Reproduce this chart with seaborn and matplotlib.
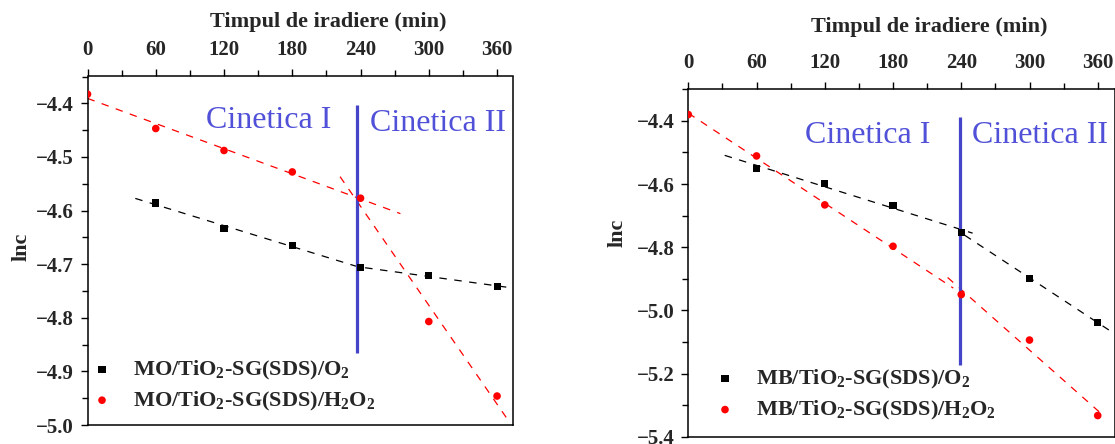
import numpy as np
import matplotlib
matplotlib.use("Agg")
import matplotlib.pyplot as plt
import seaborn as sns
import pandas as pd

# ---------------- data ----------------
time_min = [0, 60, 120, 180, 240, 300, 360]
mo_o2 = [np.nan, -4.586, -4.634, -4.665, -4.706, -4.722, -4.741]
mo_h2o2 = [-4.383, -4.447, -4.488, -4.528, -4.577, -4.807, -4.946]
mb_o2 = [np.nan, -4.551, -4.598, -4.667, -4.754, -4.899, -5.038]
mb_h2o2 = [-4.380, -4.511, -4.666, -4.797, -4.950, -5.094, -5.333]

labels_mo = ["MO/TiO$_2$-SG(SDS)/O$_2$", "MO/TiO$_2$-SG(SDS)/H$_2$O$_2$"]
labels_mb = ["MB/TiO$_2$-SG(SDS)/O$_2$", "MB/TiO$_2$-SG(SDS)/H$_2$O$_2$"]
xticks = [0, 60, 120, 180, 240, 300, 360]
xlabel = "Timpul de iradiere (min)"
ylabel = "lnc"
kin_labels = ["Cinetica I", "Cinetica II"]

# fit ranges (kinetic regimes) and drawing extents of the fit lines
fit_ranges_black = [(60, 240), (240, 360)]
fit_ranges_red = [(0, 240), (240, 360)]
draw_mo_black = [(42, 236), (244, 374)]
draw_mo_red = [(0, 275), (222, 368)]
draw_mb_black = [(32, 250), (243, 375)]
draw_mb_red = [(0, 233), (228, 366)]

# ---------------- style ----------------
sns.set_theme(style="ticks")
plt.rcParams["font.family"] = ["Liberation Serif", "DejaVu Serif"]
plt.rcParams["mathtext.fontset"] = "custom"
plt.rcParams["mathtext.rm"] = "Liberation Serif:bold"
plt.rcParams["mathtext.it"] = "Liberation Serif:bold"
plt.rcParams["mathtext.bf"] = "Liberation Serif:bold"
plt.rcParams["mathtext.default"] = "rm"
plt.rcParams["axes.unicode_minus"] = True

BLUE_LINE = "#4444c8"
BLUE_TEXT = "#5050d8"
RED = "#ff0000"

fig = plt.figure(figsize=(11.15, 4.44), dpi=100)
axL = fig.add_axes([87.5 / 1115, 19 / 444, 425.5 / 1115, 348.5 / 444])
axR = fig.add_axes([688.3 / 1115, 7.3 / 444, 426.5 / 1115, 347.4 / 444])


def fit_segments(ax, x, y, ranges, extents, color):
    x = np.asarray(x, float)
    y = np.asarray(y, float)
    for (a, b), (e0, e1) in zip(ranges, extents):
        m = (x >= a) & (x <= b) & ~np.isnan(y)
        k, c = np.polyfit(x[m], y[m], 1)
        xx = np.array([e0, e1])
        ax.plot(xx, k * xx + c, color=color, lw=0.9, dashes=(6, 6), zorder=2)


def yfmt(v, pos):
    return f"{v:.1f}".replace("-", "\u2212")


def panel(ax, yb, yr, labels, dr_b, dr_r, ylim, ymajor, yminor, vline, txt_pos,
          leg_anchor, xlab_y, ylab_xy, xlim):
    df = pd.DataFrame({"t": time_min, "b": yb, "r": yr})
    sns.scatterplot(data=df, x="t", y="b", ax=ax, marker="s", s=26, color="black",
                    edgecolor="none", label=labels[0], zorder=4)
    sns.scatterplot(data=df, x="t", y="r", ax=ax, marker="o", s=30, color=RED,
                    edgecolor="none", label=labels[1], zorder=4)
    fit_segments(ax, time_min, yb, fit_ranges_black, dr_b, "black")
    fit_segments(ax, time_min, yr, fit_ranges_red, dr_r, RED)
    ax.vlines(vline[0], vline[1], vline[2], color=BLUE_LINE, lw=2.3, zorder=3)
    for (tx, ty), s in zip(txt_pos, kin_labels):
        ax.text(tx, ty, s, color=BLUE_TEXT, fontsize=23, ha="center", va="center",
                family="Liberation Serif")

    ax.set_xlim(*xlim)
    ax.set_ylim(*ylim)
    ax.xaxis.tick_top()
    ax.xaxis.set_label_position("top")
    ax.set_xticks(xticks)
    ax.set_xticks(np.arange(30, 375, 60), minor=True)
    ax.set_yticks(np.arange(ylim[0], ylim[1] + 1e-9, ymajor))
    ax.set_yticks(np.arange(ylim[0], ylim[1] + 1e-9, yminor), minor=True)
    ax.yaxis.set_major_formatter(matplotlib.ticker.FuncFormatter(yfmt))
    ax.tick_params(axis="both", which="major", direction="out", length=5, width=1,
                   labelsize=15, color="black")
    ax.tick_params(axis="x", which="major", pad=7)
    ax.tick_params(axis="y", which="major", pad=5)
    ax.tick_params(axis="both", which="minor", direction="out", length=4, width=1,
                   color="black")
    for lab in ax.get_xticklabels() + ax.get_yticklabels():
        lab.set_fontweight("bold")
    for sp in ax.spines.values():
        sp.set_visible(True)
        sp.set_color("black")
        sp.set_linewidth(1.1)

    ax.set_xlabel(xlabel, fontsize=16, fontweight="bold", va="center")
    ax.xaxis.set_label_coords(0.565, xlab_y)
    ax.set_ylabel(ylabel, fontsize=16, fontweight="bold", va="center")
    ax.yaxis.set_label_coords(*ylab_xy)

    ax.legend(loc="center left", bbox_to_anchor=leg_anchor, frameon=False,
              handlelength=1.0, handletextpad=0.9, borderpad=0,
              borderaxespad=0, labelspacing=0.35, markerscale=1.0,
              prop={"weight": "bold", "size": 16})


panel(axL, mo_o2, mo_h2o2, labels_mo, draw_mo_black, draw_mo_red,
      (-5.0, -4.35), 0.1, 0.05, (237, -4.865, -4.404),
      [(159, -4.432), (308, -4.437)], (0.008, 0.113), 1.155, (-0.155, 0.511),
      (0, 374))
panel(axR, mb_o2, mb_h2o2, labels_mb, draw_mb_black, draw_mb_red,
      (-5.4, -4.30), 0.2, 0.1, (239.3, -5.173, -4.389),
      [(158, -4.445), (309, -4.445)], (0.060, 0.12), 1.18, (-0.165, 0.586),
      (0, 375))

fig.savefig("out.png", dpi=100)
